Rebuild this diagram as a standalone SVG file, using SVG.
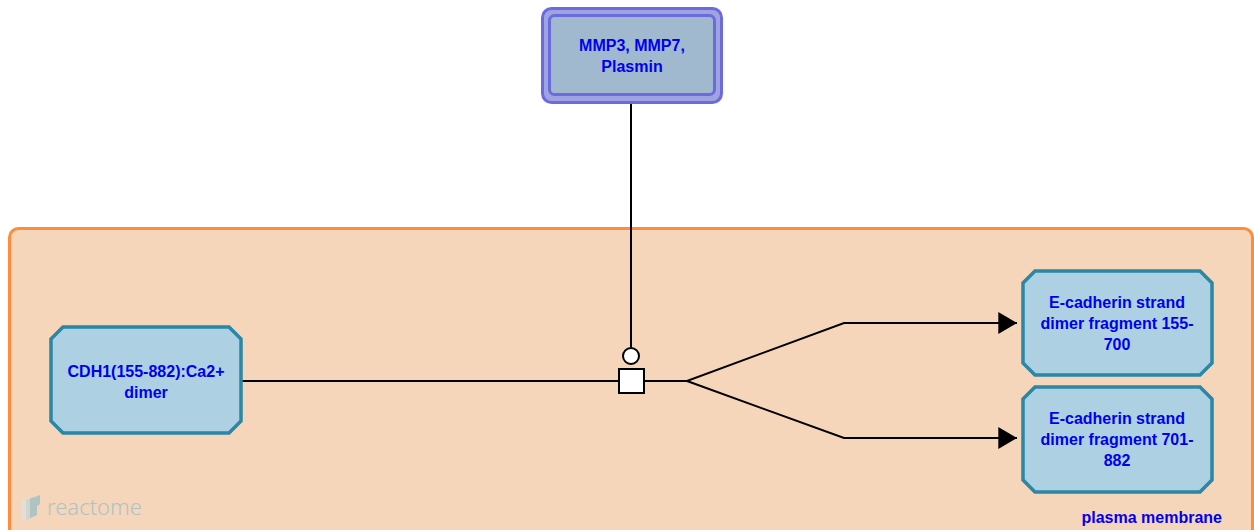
<svg xmlns="http://www.w3.org/2000/svg" width="1254" height="530" viewBox="0 0 1254 530">
<style>
.txt{font-family:"Liberation Sans",Arial,sans-serif;font-weight:bold;font-size:16px;fill:#0000EE;text-anchor:middle}
.ent{fill:#ADD1E3;stroke:#2A87A5;stroke-width:3.5}
.line{fill:none;stroke:#000;stroke-width:2}
</style>
<defs>
<marker id="arrow" markerUnits="userSpaceOnUse" markerWidth="20" markerHeight="22" refX="17" refY="10" orient="auto" viewBox="0 0 18 20">
<path d="M0,0 L17,10 L0,20 Z" fill="#000"/>
</marker>
</defs>
<rect width="1254" height="530" fill="#fff"/>
<g id="compartment-plasma-membrane">
<rect x="9.5" y="228.5" width="1243" height="320" rx="9" fill="#F5D6BA" stroke="#FF8C3A" stroke-width="3"/>
<text class="txt" x="1222" y="523" style="text-anchor:end">plasma membrane</text>
</g>
<g id="reactome-logo" opacity="0.6">
<path d="M22,501 L30,497 L30,518 L22,521 Z" fill="#D5E6EA"/>
<path d="M26,500 L34,496 L34,517 L26,520 Z" fill="#B6D6DE"/>
<path d="M30,499 L40,495 L40,504 L37,506 L37,515 L30,518 Z" fill="#7FB8C8"/>
<text x="47" y="515" style="font-family:'Noto Sans',sans-serif;font-size:22px;font-weight:300;fill:#7FB8C8">reactome</text>
</g>
<g id="connectors">
<line class="line" x1="242" y1="381" x2="619" y2="381"/>
<line class="line" x1="631" y1="103" x2="631" y2="348"/>
<polyline class="line" points="644,381 687,381 844,323 1017,323" marker-end="url(#arrow)"/>
<polyline class="line" points="687,381 844,438 1017,438" marker-end="url(#arrow)"/>
<circle cx="631" cy="356" r="8" fill="#fff" stroke="#000" stroke-width="2"/>
<rect x="619" y="369" width="25" height="24" fill="#fff" stroke="#000" stroke-width="2"/>
</g>
<g id="node-mmp">
<rect x="542.5" y="8.5" width="179" height="94" rx="9" fill="#9FA3DF" stroke="#6B6BE0" stroke-width="3"/>
<rect x="549.5" y="15.5" width="165" height="79" rx="5" fill="#A0B9CE" stroke="#6B6BE0" stroke-width="3"/>
<text class="txt" x="632" y="51">MMP3, MMP7,</text>
<text class="txt" x="632" y="72">Plasmin</text>
</g>
<g id="node-cdh1">
<path class="ent" d="M63,327 L229,327 L241,339 L241,421 L229,433 L63,433 L51,421 L51,339 Z"/>
<text class="txt" x="146" y="377">CDH1(155-882):Ca2+</text>
<text class="txt" x="146" y="398">dimer</text>
</g>
<g id="node-frag1">
<path class="ent" d="M1035,271 L1200,271 L1212,283 L1212,363 L1200,375 L1035,375 L1023,363 L1023,283 Z"/>
<text class="txt" x="1117" y="308">E-cadherin strand</text>
<text class="txt" x="1117" y="329">dimer fragment 155-</text>
<text class="txt" x="1117" y="350">700</text>
</g>
<g id="node-frag2">
<path class="ent" d="M1035,387 L1200,387 L1212,399 L1212,480 L1200,492 L1035,492 L1023,480 L1023,399 Z"/>
<text class="txt" x="1117" y="424">E-cadherin strand</text>
<text class="txt" x="1117" y="445">dimer fragment 701-</text>
<text class="txt" x="1117" y="466">882</text>
</g>
</svg>
